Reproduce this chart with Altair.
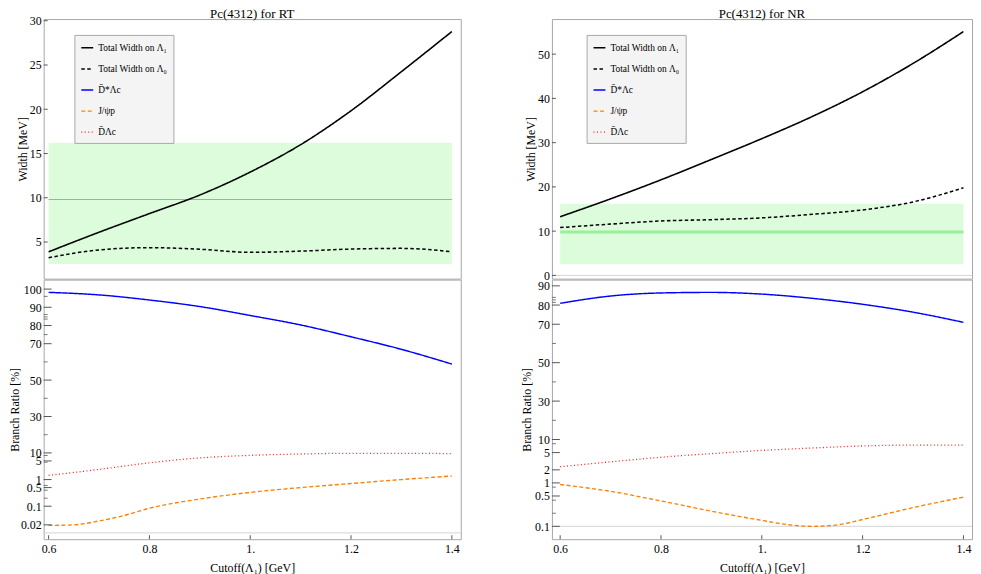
import math
import altair as alt
import pandas as pd

FONT = "Liberation Serif"

# ---------------- data ----------------
x_cut = [0.6, 0.7, 0.8, 0.9, 1.0, 1.1, 1.2, 1.3, 1.4]

# widths [MeV]
rt_total_l1 = [3.89, 6.1, 8.21, 10.31, 12.9, 16.0, 19.83, 24.25, 28.78]
rt_total_l0 = [3.22, 4.1, 4.36, 4.18, 3.83, 3.97, 4.2, 4.28, 3.9]
nr_total_l1 = [13.26, 17.3, 21.6, 26.2, 30.9, 35.9, 41.5, 47.9, 55.1]
nr_total_l0 = [10.8, 11.6, 12.3, 12.6, 13.0, 13.8, 14.8, 16.6, 19.8]

# branching ratios [%]
rt_dst = [98.2, 96.8, 94.0, 90.4, 85.5, 80.3, 73.8, 66.9, 58.8]
rt_dbar = [1.44, 2.4, 4.26, 6.5, 8.1, 9.1, 9.7, 9.7, 9.4]
rt_jpsi_x = [0.6, 0.65, 0.7, 0.75, 0.8, 0.9, 1.0, 1.1, 1.2, 1.3, 1.4]
rt_jpsi = [0.019, 0.02, 0.028, 0.045, 0.084, 0.186, 0.33, 0.5, 0.71, 1.0, 1.36]

nr_dst = [80.9, 84.7, 86.3, 86.6, 85.7, 83.5, 80.4, 76.3, 71.0]
nr_dbar = [2.36, 3.06, 3.9, 4.73, 5.6, 6.37, 7.1, 7.45, 7.45]
nr_jpsi_x = [0.6, 0.7, 0.8, 0.9, 1.0, 1.05, 1.1, 1.15, 1.2, 1.3, 1.4]
nr_jpsi = [0.92, 0.64, 0.385, 0.223, 0.137, 0.11, 0.10, 0.108, 0.144, 0.27, 0.47]

# experimental band
band_x = [0.6, 1.4]
band_lo, band_hi, band_mid = 2.5, 16.2, 9.8

series = ["Total Width on Λ₁", "Total Width on Λ₀", "D̄*Λc", "J/ψp", "D̄Λc"]
colors = ["#000000", "#000000", "#0000ff", "#ff8000", "#ff2020"]
dashes = [[1, 0], [3.5, 2.5], [1, 0], [4, 2.5], [1, 2.5]]
widths = [1.6, 1.3, 1.4, 2.0, 1.5]

x_ticks = [0.6, 0.8, 1.0, 1.2, 1.4]
rt_w_ticks = [5, 10, 15, 20, 25, 30]
nr_w_ticks = [0, 10, 20, 30, 40, 50]
rt_br_major = [0.02, 0.1, 0.5, 1, 5, 10, 30, 50, 70, 80, 90, 100]
rt_br_minor = [0.2, 0.4, 0.6, 4.5, 8, 20, 40, 60, 75, 83.5, 84.7, 86, 96]
nr_br_major = [0.1, 0.5, 1, 2, 5, 10, 30, 50, 70, 80, 90]
nr_br_minor = [0.2, 0.4, 0.8, 8, 20, 40, 60, 81.4, 82.7, 84]

# ---------------- layout ----------------
WL, WR = 421, 424
HT, HB = 262, 262
XDOM_L = [0.5902, 1.4177]
XDOM_R = [0.5837, 1.417]


def tf(v, K):
    return v if v >= 10 else 10 - K * math.log10(10 / v)


def legend(lgx):
    return alt.Legend(orient="none", legendX=lgx, legendY=16, title=None,
                      symbolType="stroke", symbolSize=144, symbolStrokeWidth=1.5,
                      labelFont=FONT, labelFontSize=9.5, labelColor="#000",
                      rowPadding=9.3, padding=6, fillColor="#f4f4f4",
                      strokeColor="#a8a8a8", labelOffset=4)


def style_enc(lgx=None):
    lg = legend(lgx) if lgx is not None else None
    return dict(
        color=alt.Color("s:N", scale=alt.Scale(domain=series, range=colors), legend=lg),
        strokeDash=alt.StrokeDash("s:N", scale=alt.Scale(domain=series, range=dashes), legend=lg),
        strokeWidth=alt.StrokeWidth("s:N", scale=alt.Scale(domain=series, range=widths), legend=None),
    )


def top_panel(title, total1, total0, xdom, ydom, yticks, W, E, mid_color, mid_width, zero_line,
              lgx, title_dy):
    X = alt.X("x:Q", scale=alt.Scale(domain=xdom, nice=False, zero=False), axis=None)
    Y = alt.Y("w:Q", scale=alt.Scale(domain=ydom, nice=False, zero=False),
              axis=alt.Axis(values=yticks, format="d", title="Width [MeV]",
                            minExtent=E, maxExtent=E))
    df = pd.DataFrame({"x": x_cut + x_cut, "w": total1 + total0,
                       "s": [series[0]] * len(x_cut) + [series[1]] * len(x_cut)})
    band = alt.Chart(pd.DataFrame({"x": [band_x[0]], "x2": [band_x[1]],
                                   "w": [band_lo], "w2": [band_hi]})).mark_rect(
        color="#dcfcdc").encode(x=X, x2="x2:Q", y=Y, y2="w2:Q")
    mid = alt.Chart(pd.DataFrame({"x": [band_x[0]], "x2": [band_x[1]], "w": [band_mid]})).mark_rule(
        color=mid_color, strokeWidth=mid_width).encode(x=X, x2="x2:Q", y=Y)
    layers = [band, mid]
    if zero_line is not None:
        layers.append(alt.Chart(pd.DataFrame({"w": [zero_line]})).mark_rule(
            color="#d4d4d4", strokeWidth=1).encode(y=Y, x=alt.value(0), x2=alt.value(W)))
    lines = alt.Chart(df).mark_line(interpolate="monotone").encode(x=X, y=Y, **style_enc(lgx))
    ticks = alt.Chart(pd.DataFrame({"w": yticks})).mark_rule(color="#555555", strokeWidth=1).encode(
        y=Y, x=alt.value(0), x2=alt.value(4))
    layers += [lines, ticks]
    return alt.layer(*layers).properties(width=W, height=HT,
                                         title=alt.TitleParams(title, dy=title_dy))


def bottom_panel(dst, dbar, jx, jpsi, xdom, ydom, K, majors, minors, W, E, base_line):
    expr = f"datum.v >= 10 ? datum.v : 10 - {K}*log(10/datum.v)/LN10"
    lab = (f"datum.value >= 9.999 ? format(datum.value, '.0f') : "
           f"format(10*pow(10, (datum.value-10)/{K}), '~g')")
    X = alt.X("x:Q", scale=alt.Scale(domain=xdom, nice=False, zero=False),
              axis=alt.Axis(values=x_ticks, title="Cutoff(Λ₁) [GeV]", labelFlush=False,
                            labelExpr="datum.value == 1 ? '1.' : format(datum.value, '.1f')"))
    Y = alt.Y("t:Q", scale=alt.Scale(domain=ydom, nice=False, zero=False),
              axis=alt.Axis(values=[tf(v, K) for v in majors], labelExpr=lab,
                            title="Branch Ratio [%]", labelOverlap=False,
                            minExtent=E, maxExtent=E))
    df = pd.DataFrame({"x": x_cut + jx + x_cut, "v": dst + jpsi + dbar,
                       "s": [series[2]] * len(x_cut) + [series[3]] * len(jx) + [series[4]] * len(x_cut)})
    base = alt.Chart(pd.DataFrame({"v": [base_line]})).transform_calculate(t=expr).mark_rule(
        color="#d4d4d4", strokeWidth=1).encode(y=Y, x=alt.value(0), x2=alt.value(W))
    lines = alt.Chart(df).transform_calculate(t=expr).mark_line(interpolate="monotone").encode(
        x=X, y=Y, **style_enc(None))
    tmaj = alt.Chart(pd.DataFrame({"v": majors})).transform_calculate(t=expr).mark_rule(
        color="#555555", strokeWidth=1).encode(y=Y, x=alt.value(0), x2=alt.value(8))
    tmin = alt.Chart(pd.DataFrame({"v": minors})).transform_calculate(t=expr).mark_rule(
        color="#777777", strokeWidth=1).encode(y=Y, x=alt.value(0), x2=alt.value(4))
    tx = alt.Chart(pd.DataFrame({"x": x_ticks})).mark_rule(color="#555555", strokeWidth=1).encode(
        x=X, y=alt.value(HB), y2=alt.value(HB - 4))
    return alt.layer(base, lines, tmaj, tmin, tx).properties(width=W, height=HB)


K_L = 14.64
K_R = 22.6

tl = top_panel("Pc(4312) for RT", rt_total_l1, rt_total_l0, XDOM_L, [0.86, 30.19], rt_w_ticks,
               WL, 12, "#5fdc5f", 1, None, 31, 4.3)
bl = bottom_panel(rt_dst, rt_dbar, rt_jpsi_x, rt_jpsi, XDOM_L, [-37.4, 105.2], K_L,
                  rt_br_major, rt_br_minor, WL, 20, 0.01)
tr = top_panel("Pc(4312) for NR", nr_total_l1, nr_total_l0, XDOM_R, [-0.73, 57.93], nr_w_ticks,
               WR, 13, "#9af09a", 3, 0, 35, 0)
br = bottom_panel(nr_dst, nr_dbar, nr_jpsi_x, nr_jpsi, XDOM_R, [-41.9, 93.24], K_R,
                  nr_br_major, nr_br_minor, WR, 17, 0.1)

res = dict(x="independent", y="independent", color="independent",
           strokeDash="independent", strokeWidth="independent")

chart = alt.concat(tl, tr, bl, br, columns=2, bounds="flush",
                   spacing={"row": 1, "column": 92}).resolve_scale(**res).properties(
    padding={"left": 0, "top": -3.5, "right": 0, "bottom": 0}
).configure_view(
    stroke="#a6a6a6", strokeWidth=1
).configure_axis(
    labelFont=FONT, titleFont=FONT, labelFontSize=12, titleFontSize=12,
    titleFontWeight="normal", labelColor="#000000", titleColor="#000000",
    domain=False, ticks=False, tickSize=0, grid=False, labelPadding=2.5, titlePadding=2
).configure_axisX(
    labelPadding=4, titlePadding=9
).configure_title(
    font=FONT, fontSize=13, fontWeight="normal", offset=-2, color="#000000", frame="group"
)

chart.save("out.html", embed_options={"renderer": "svg", "actions": False})
